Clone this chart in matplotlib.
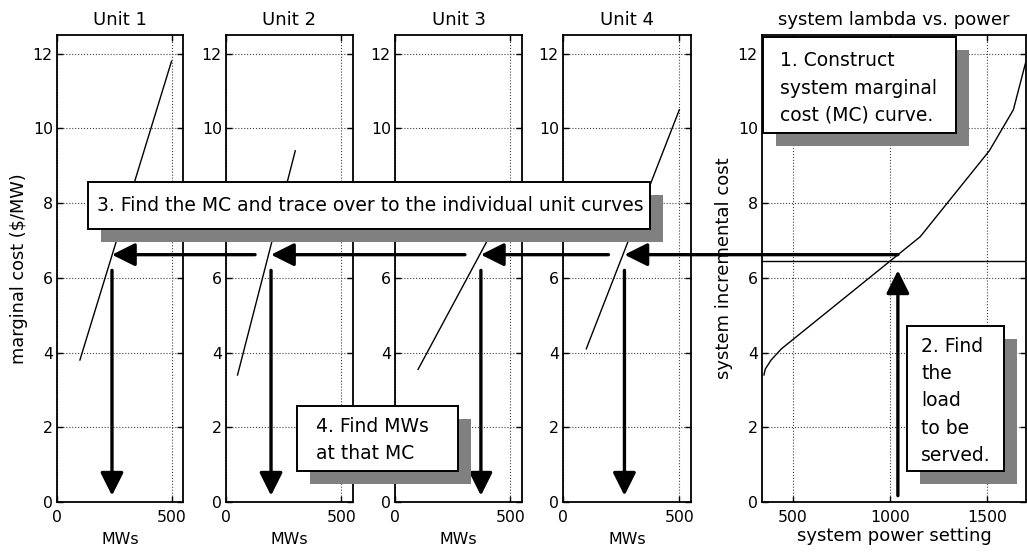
import matplotlib
matplotlib.use("Agg")
import matplotlib.pyplot as plt
from matplotlib.patches import Rectangle, ConnectionPatch
import numpy as np

plt.rcParams['font.family'] = ['DejaVu Sans']

# ---------------- data ----------------
unit_names = ["Unit 1", "Unit 2", "Unit 3", "Unit 4"]
unit_mw_min = [100, 50, 100, 100]
unit_mw_max = [500, 300, 400, 500]
unit_mc_min = [3.8, 3.4, 3.55, 4.1]
unit_mc_max = [11.8, 9.4, 7.0, 10.5]
unit_mw_at_mc = [240, 195, 372, 264]      # unit outputs at the system MC

sys_mw = [350, 357, 387, 440, 1155, 1511, 1635, 1700]
sys_mc = [3.4, 3.56, 3.8, 4.1, 7.1, 9.4, 10.5, 11.8]
sys_lambda_line = 6.46
load_mw = 1040
system_mc = 6.62

unit_xticks = [0, 500]
sys_xticks = [500, 1000, 1500]
yticks = [0, 2, 4, 6, 8, 10, 12]

# ---------------- figure ----------------
W, H = 1027, 552
fig = plt.figure(figsize=(W / 100, H / 100), dpi=100)

def px_axes(x0, y0, x1, y1):
    return [x0 / W, 1 - y1 / H, (x1 - x0) / W, (y1 - y0) / H]

unit_boxes = [(57, 35, 183, 502), (226, 35, 353, 502),
              (395, 35, 522, 502), (563, 35, 691, 502)]
sys_box = (762, 35, 1026, 502)

def style_axes(ax):
    for s in ax.spines.values():
        s.set_linewidth(1.3)
    ax.tick_params(direction='in', length=4, width=1.0, top=True, right=True,
                   labelsize=11.3)
    ax.tick_params(axis='y', pad=3)
    ax.tick_params(axis='x', pad=6)
    ax.grid(True, linestyle=':', color='0.25', linewidth=0.8)
    ax.set_axisbelow(True)
    ax.set_yticks(yticks)
    ax.set_ylim(0, 12.5)

unit_axes = []
for i, b in enumerate(unit_boxes):
    ax = fig.add_axes(px_axes(*b))
    style_axes(ax)
    ax.plot([unit_mw_min[i], unit_mw_max[i]], [unit_mc_min[i], unit_mc_max[i]],
            color='black', lw=1.0)
    ax.set_xlim(0, 550)
    ax.set_xticks(unit_xticks)
    ax.set_title(unit_names[i], fontsize=13, pad=7.5)
    ax.set_xlabel("MWs", fontsize=11.4, labelpad=5)
    unit_axes.append(ax)

unit_axes[0].set_ylabel("marginal cost ($/MW)", fontsize=12.8)
unit_axes[0].yaxis.set_label_coords(-0.23, 0.5)

axs = fig.add_axes(px_axes(*sys_box))
style_axes(axs)
axs.plot(sys_mw, sys_mc, color='black', lw=1.0)
axs.axhline(sys_lambda_line, color='black', lw=1.0)
axs.set_xlim(340, 1700)
axs.set_xticks(sys_xticks)
axs.set_title("system lambda vs. power", fontsize=13, pad=7.5)
axs.set_xlabel("system power setting", fontsize=13, labelpad=1.5)
axs.set_ylabel("system incremental cost", fontsize=13)
axs.yaxis.set_label_coords(-0.108, 0.5)

# ---------------- arrows ----------------
astyle = "-|>,head_length=14,head_width=7"
def arrow(xyA, axA, xyB, axB, shrinkA=0):
    cp = ConnectionPatch(xyA=xyA, coordsA=axA.transData, xyB=xyB, coordsB=axB.transData,
                         arrowstyle=astyle, mutation_scale=1, lw=2.4, color='black',
                         shrinkA=shrinkA, shrinkB=0, zorder=10)
    fig.add_artist(cp)

# system: load up to the curve
arrow((load_mw, 0.17), axs, (load_mw, 6.2), axs)
# horizontal trace to each unit
arrow((load_mw, system_mc), axs, (unit_mw_at_mc[3], system_mc), unit_axes[3])
for i in (2, 1, 0):
    arrow((unit_mw_at_mc[i + 1], system_mc), unit_axes[i + 1],
          (unit_mw_at_mc[i], system_mc), unit_axes[i], shrinkA=11.5)
# down to MW axis
for i in range(4):
    arrow((unit_mw_at_mc[i], 6.2), unit_axes[i], (unit_mw_at_mc[i], 0.17), unit_axes[i])

# ---------------- call-out boxes ----------------
ov = fig.add_axes([0, 0, 1, 1], zorder=20)
ov.set_xlim(0, W)
ov.set_ylim(H, 0)
ov.axis('off')

boxes = [
    ((88, 182, 650, 229), (97, 205.5), "3. Find the MC and trace over to the individual unit curves"),
    ((763, 37, 956, 133), (780, 88), "1. Construct\nsystem marginal\ncost (MC) curve."),
    ((907, 326, 1004, 471), (921, 401), "2. Find\nthe\nload\nto be\nserved."),
    ((297, 406, 458, 471), (316, 440), "4. Find MWs\nat that MC"),
]
off = 13
for (x0, y0, x1, y1), (tx, ty), txt in boxes:
    ov.add_patch(Rectangle((x0 + off, y0 + off), x1 - x0, y1 - y0,
                           facecolor='#808080', edgecolor='none'))
    ov.add_patch(Rectangle((x0, y0), x1 - x0, y1 - y0,
                           facecolor='white', edgecolor='black', lw=1.4))
    ov.text(tx, ty, txt, fontsize=13.5, ha='left', va='center', linespacing=1.55)

fig.savefig("out.png", dpi=100)
